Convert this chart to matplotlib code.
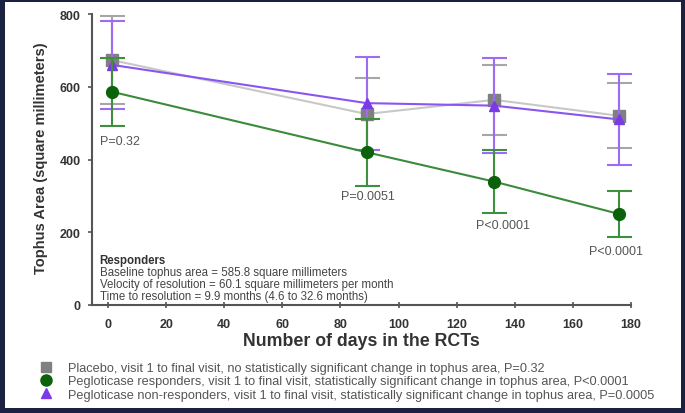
import numpy as np
import matplotlib
matplotlib.use('Agg')
import matplotlib.pyplot as plt
from matplotlib.lines import Line2D
from matplotlib.patches import Rectangle

plt.rcParams['font.family'] = ['Liberation Sans', 'DejaVu Sans']

# visit days
days = [1.5, 89, 133, 176]

# placebo
placebo_mean = [673, 525, 564, 520]
placebo_err = [121, 100, 96, 89]
# pegloticase responders
resp_mean = [586, 420, 339, 250]
resp_err = [93, 92, 87, 64]
# pegloticase non-responders
nonresp_mean = [660, 555, 548, 510]
nonresp_err = [121, 128, 130, 124]

p_labels = ["P=0.32", "P=0.0051", "P<0.0001", "P<0.0001"]
p_pos = [(-2.9, 451), (89.5, 300), (136, 220), (175, 149)]
p_ha = ["left", "center", "center", "center"]

resp_lines = ["Baseline tophus area = 585.8 square millimeters",
              "Velocity of resolution = 60.1 square millimeters per month",
              "Time to resolution = 9.9 months (4.6 to 32.6 months)"]

legend_labels = ["Placebo, visit 1 to final visit, no statistically significant change in tophus area, P=0.32",
                 "Pegloticase responders, visit 1 to final visit, statistically significant change in tophus area, P<0.0001",
                 "Pegloticase non-responders, visit 1 to final visit, statistically significant change in tophus area, P=0.0005"]

# style per series: (mean, err, line color, marker color, errbar color, marker, size, zorder)
series = [
    (placebo_mean, placebo_err, "#c8c8c8", "#808080", "#a6a6a6", "s", 9, 3),
    (nonresp_mean, nonresp_err, "#8a55f0", "#7a3be6", "#9d6cf5", "^", 7, 4),
    (resp_mean, resp_err, "#3c8a3c", "#0b620b", "#3f8f3f", "o", 8.5, 5),
]

fig = plt.figure(figsize=(6.85, 4.14), dpi=100)
fig.patch.set_facecolor("#1b2140")
# white slide area
fig.patches.append(Rectangle((5/685, 5/414), 676/685, 406/414, transform=fig.transFigure,
                             facecolor="white", edgecolor="none", zorder=-10))

ax = fig.add_axes([92/685, 108/414, 539/685, 291/414])
ax.set_facecolor("white")

for mean, err, lc, mc, ec, mk, ms, z in series:
    ax.errorbar(days, mean, yerr=err, fmt="none", ecolor=ec, elinewidth=1.5,
                capsize=9, capthick=1.5, zorder=z, clip_on=False)
    ax.plot(days, mean, color=lc, lw=1.5, zorder=z + 0.1)
    ax.plot(days, mean, ls="none", marker=mk, ms=ms, color=mc, zorder=z + 0.2, clip_on=False)

# p-values
for lab, (x, y), ha in zip(p_labels, p_pos, p_ha):
    ax.text(x, y, lab, ha=ha, va="center", fontsize=9, color="#555555")

# responders box text
ax.text(-2.9, 123, "Responders", fontsize=8.3, fontweight="bold", color="#333333", va="center")
for t, y in zip(resp_lines, [91, 57, 24]):
    ax.text(-2.9, y, t, fontsize=8.3, color="#444444", va="center")

ax.set_xlim(-5.5, 180)
ax.set_ylim(0, 800)
ax.set_xticks(np.arange(0, 181, 20))
ax.set_yticks(np.arange(0, 801, 200))

for s in ["top", "right"]:
    ax.spines[s].set_visible(False)
for s in ["left", "bottom"]:
    ax.spines[s].set_color("#555555")
    ax.spines[s].set_linewidth(1.5)

ax.tick_params(axis="x", direction="inout", length=5, width=1.2, color="#555555", pad=7,
               labelsize=9, labelcolor="#333333")
ax.tick_params(axis="y", direction="out", length=3, width=1.2, color="#555555", pad=5,
               labelsize=9, labelcolor="#333333")
for lbl in ax.get_xticklabels() + ax.get_yticklabels():
    lbl.set_fontweight("bold")

ax.set_xlabel("Number of days in the RCTs", fontsize=12.8, fontweight="bold", color="#333333", va="center")
ax.xaxis.set_label_coords(0.5, -36/291)
fig.text(41/685, 1 - 158/414, "Tophus Area (square millimeters)", rotation=90, ha="center", va="center",
         fontsize=10.5, fontweight="bold", color="#333333")

# legend
handles = [Line2D([], [], ls="none", marker="s", ms=6.5, color="#808080"),
           Line2D([], [], ls="none", marker="o", ms=8, color="#0b620b"),
           Line2D([], [], ls="none", marker="^", ms=7, color="#7a3be6")]
fig.legend(handles, legend_labels, loc="upper left", bbox_to_anchor=(40/685, 1 - 363/414),
           frameon=False, fontsize=9.2, labelcolor="#555555", handlelength=0.9, handletextpad=1.3,
           borderpad=0, borderaxespad=0, labelspacing=0.1)

fig.savefig("out.png", dpi=100, facecolor=fig.get_facecolor())
